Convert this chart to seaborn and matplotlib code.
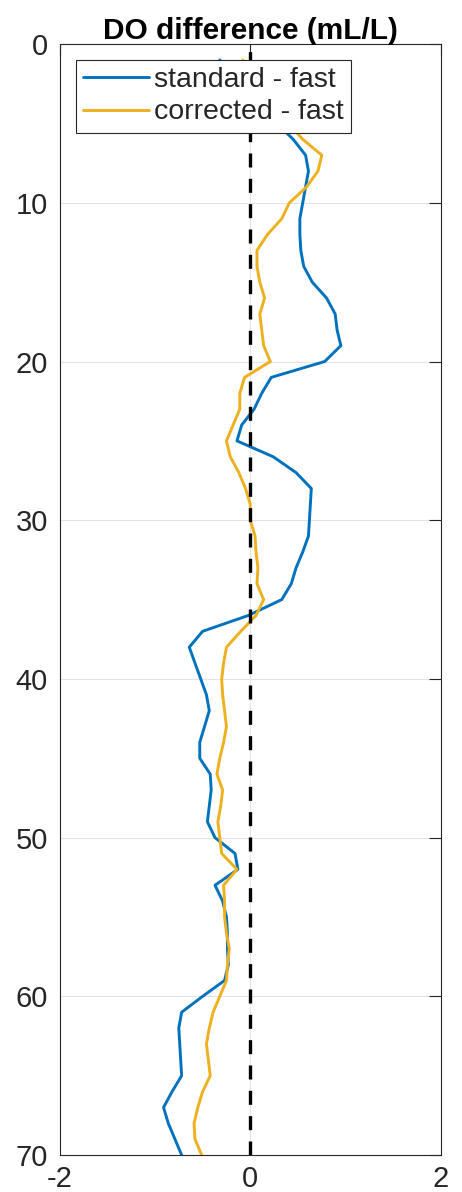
import matplotlib
matplotlib.use("Agg")
import matplotlib.pyplot as plt
import seaborn as sns
import pandas as pd

# Depth (m) at which each difference profile is sampled
depth_std = [1, 3, 5, 6, 7, 8, 9, 10, 11, 12, 13, 14, 15, 16, 17, 18, 19, 20,
             21, 22, 23, 24, 25, 26, 27, 28, 29, 30, 31, 32, 33, 34, 35, 36,
             37, 38, 39, 40, 41, 42, 43, 44, 45, 46, 47, 48, 49, 50, 51, 52,
             53, 54, 55, 56, 57, 58, 59, 60, 61, 62, 63, 64, 65, 66, 67, 68,
             69, 70]
# standard - fast (mL/L)
diff_std = [-0.32, 0.0, 0.28, 0.45, 0.58, 0.61, 0.58, 0.55, 0.52, 0.52, 0.53,
            0.56, 0.65, 0.80, 0.89, 0.91, 0.95, 0.78, 0.22, 0.12, 0.04, -0.09,
            -0.14, 0.24, 0.48, 0.64, 0.63, 0.62, 0.61, 0.55, 0.48, 0.43, 0.33,
            -0.02, -0.50, -0.64, -0.58, -0.52, -0.46, -0.43, -0.48, -0.53,
            -0.53, -0.42, -0.41, -0.43, -0.45, -0.37, -0.16, -0.13, -0.37,
            -0.29, -0.25, -0.24, -0.24, -0.23, -0.27, -0.50, -0.72, -0.75,
            -0.74, -0.73, -0.72, -0.82, -0.91, -0.86, -0.79, -0.72]

depth_cor = list(depth_std)
# corrected - fast (mL/L)
diff_cor = [-0.08, 0.10, 0.40, 0.55, 0.75, 0.71, 0.59, 0.41, 0.33, 0.18, 0.07,
            0.07, 0.10, 0.15, 0.10, 0.12, 0.14, 0.21, -0.06, -0.11, -0.11,
            -0.18, -0.25, -0.21, -0.12, -0.05, 0.0, 0.0, 0.05, 0.06, 0.08,
            0.07, 0.14, 0.06, -0.10, -0.25, -0.28, -0.30, -0.29, -0.27, -0.25,
            -0.28, -0.32, -0.35, -0.29, -0.31, -0.34, -0.32, -0.30, -0.14,
            -0.28, -0.27, -0.27, -0.25, -0.22, -0.24, -0.25, -0.32, -0.39,
            -0.43, -0.46, -0.44, -0.42, -0.50, -0.55, -0.59, -0.58, -0.51]

series_labels = ["standard - fast", "corrected - fast"]
x_ticks = [-2, 0, 2]
y_ticks = [0, 10, 20, 30, 40, 50, 60, 70]

sns.set_theme(style="white")
plt.rcParams["font.family"] = ["Liberation Sans", "DejaVu Sans"]

ink = "#262626"
fig = plt.figure(figsize=(4.62, 11.92), dpi=100)
ax = fig.add_axes([0.129, 0.031, 0.8255, 0.932])

df = pd.concat([
    pd.DataFrame({"depth": depth_std, "diff": diff_std, "series": series_labels[0]}),
    pd.DataFrame({"depth": depth_cor, "diff": diff_cor, "series": series_labels[1]}),
])

# light grid behind everything
for yv in y_ticks[1:-1]:
    ax.axhline(yv, color="#e3e3e3", lw=0.8, zorder=0)
ax.axvline(0, color="#e3e3e3", lw=0.8, zorder=0)

sns.lineplot(data=df, x="diff", y="depth", hue="series", sort=False,
             orient="y", estimator=None,
             palette=["#0072BD", "#EDB120"], linewidth=2.1, ax=ax, zorder=3)

ax.axvline(0, color="black", lw=2.4, ls=(0, (4.2, 3.4)), zorder=4)

ax.set_xlim(-2, 2)
ax.set_ylim(70, 0)
ax.set_xticks(x_ticks)
ax.set_yticks(y_ticks)
ax.set_xticklabels([str(v) for v in x_ticks])
ax.set_yticklabels([str(v) for v in y_ticks])
ax.set_xlabel("")
ax.set_ylabel("")
ax.tick_params(axis="both", direction="in", length=8.4, width=0.8, colors=ink,
               labelsize=21, labelcolor=ink, top=True, right=True)
ax.tick_params(axis="x", pad=7.5)
ax.tick_params(axis="y", pad=8.5)
for sp in ax.spines.values():
    sp.set_color(ink)
    sp.set_linewidth(0.8)

ax.set_title("DO difference (mL/L)", fontsize=21.5, fontweight="bold",
             color="black", pad=3.5)

leg = ax.legend(loc="upper left", bbox_to_anchor=(0.043, 0.9856), fontsize=20.5,
                frameon=True, fancybox=False, edgecolor=ink, framealpha=1,
                handlelength=2.3, handletextpad=0.2, borderpad=0.25,
                labelspacing=0.22, borderaxespad=0)
leg.get_frame().set_linewidth(0.8)
leg.set_zorder(5)

fig.savefig("out.png", dpi=100)
